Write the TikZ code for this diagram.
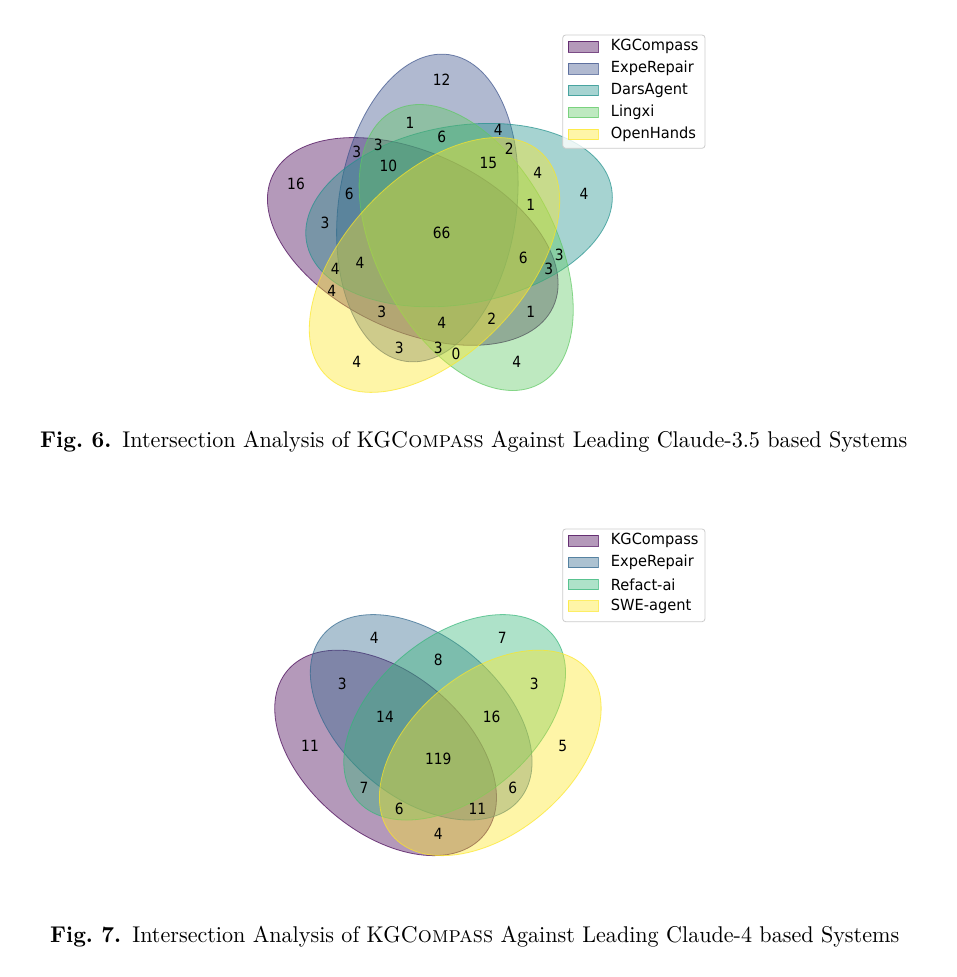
\documentclass[tikz,border=0pt]{standalone}
\usepackage{fontspec}
\newfontfamily\dv{DejaVu Sans}
\usepackage{graphicx}
\definecolor{vA}{HTML}{440154}
\definecolor{vB}{HTML}{3B528B}
\definecolor{vC}{HTML}{21918C}
\definecolor{vD}{HTML}{5EC962}
\definecolor{vE}{HTML}{FDE725}
\definecolor{wB}{HTML}{31688E}
\definecolor{wC}{HTML}{35B779}
\tikzset{
  petal/.style={fill=#1, draw=#1, fill opacity=0.4, draw opacity=0.7, line width=0.8pt},
  num/.style={font=\dv\fontsize{13.8}{16}\selectfont, inner sep=0pt, text=black, yscale=1.12, transform shape},
  legtext/.style={font=\dv\fontsize{14.6}{17}\selectfont, inner sep=0pt, anchor=west, text=black, yscale=1.05, transform shape},
  legpatch/.style={fill=#1, draw=#1, fill opacity=0.4, draw opacity=0.7, line width=0.8pt, minimum width=30pt, minimum height=10.7pt, inner sep=0pt},
  legframe/.style={draw=black!20, fill=white, fill opacity=0.8, rounded corners=3pt, line width=0.8pt},
  captext/.style={inner sep=0pt, anchor=base west}
}
\begin{document}
\begin{tikzpicture}[x=1pt,y=-1pt]
\useasboundingbox (0,0) rectangle (956,977);
\fill[white] (0,0) rectangle (956,977);

% ---------- Figure 6: five sets ----------
\begin{scope}[shift={(260.4,401.3)}, x=356pt, y=356pt]
  \draw[petal=vA, rotate around={155:(0.428,0.449)}] (0.428,0.449) ellipse [x radius=0.435, y radius=0.25];
  \draw[petal=vB, rotate around={82:(0.469,0.543)}] (0.469,0.543) ellipse [x radius=0.435, y radius=0.25];
  \draw[petal=vC, rotate around={10:(0.558,0.523)}] (0.558,0.523) ellipse [x radius=0.435, y radius=0.25];
  \draw[petal=vD, rotate around={118:(0.578,0.432)}] (0.578,0.432) ellipse [x radius=0.435, y radius=0.25];
  \draw[petal=vE, rotate around={46:(0.489,0.383)}] (0.489,0.383) ellipse [x radius=0.435, y radius=0.25];
\end{scope}

\node[num] (a1) at (441.7,80) {12};
\node[num] (a2) at (410,122.7) {1};
\node[num] (a3) at (441.7,137.3) {6};
\node[num] (a4) at (498.3,130) {4};
\node[num] (a5) at (509.3,148.3) {2};
\node[num] (a6) at (356.7,151.7) {3};
\node[num] (a7) at (378.3,145) {3};
\node[num] (a8) at (388.3,166) {10};
\node[num] (a9) at (488.3,162.7) {15};
\node[num] (a10) at (296,184) {16};
\node[num] (a11) at (537.7,172.7) {4};
\node[num] (a12) at (584,194) {4};
\node[num] (a13) at (349.3,194) {6};
\node[num] (a14) at (530.7,204.7) {1};
\node[num] (a15) at (325,222.7) {3};
\node[num] (a16) at (441.7,233.3) {66};
\node[num] (a17) at (523.3,258.3) {6};
\node[num] (a18) at (559.3,255) {3};
\node[num] (a19) at (548.7,269.3) {3};
\node[num] (a20) at (360,262.7) {4};
\node[num] (a21) at (335.3,269.3) {4};
\node[num] (a22) at (331.7,290.7) {4};
\node[num] (a23) at (381.7,311.7) {3};
\node[num] (a24) at (441.7,322.7) {4};
\node[num] (a25) at (491.7,319) {2};
\node[num] (a26) at (530.7,312) {1};
\node[num] (a27) at (399.3,348) {3};
\node[num] (a28) at (438.3,348) {3};
\node[num] (a29) at (456,354.3) {0};
\node[num] (a30) at (356.7,361.7) {4};
\node[num] (a31) at (516.7,361.7) {4};

% legend 6
\draw[legframe] (562.7,35) rectangle (705,148.3);
\node[legpatch=vA] (pa1) at (583.3,46.7) {};
\node[legpatch=vB] (pa2) at (583.3,68.6) {};
\node[legpatch=vC] (pa3) at (583.3,90.5) {};
\node[legpatch=vD] (pa4) at (583.3,112.4) {};
\node[legpatch=vE] (pa5) at (583.3,134.3) {};
\node[legtext] (ta1) at (610.7,46.7) {KGCompass};
\node[legtext] (ta2) at (610.7,68.6) {ExpeRepair};
\node[legtext] (ta3) at (610.7,90.5) {DarsAgent};
\node[legtext] (ta4) at (610.7,112.4) {Lingxi};
\node[legtext] (ta5) at (610.7,134.3) {OpenHands};

\node[captext] (cap6) at (40,447.3) {\resizebox{867pt}{16.3pt}{\textbf{Fig.~6.}\enspace Intersection Analysis of KG\textsc{Compass} Against Leading Claude-3.5 based Systems}};

% ---------- Figure 7: four sets ----------
\begin{scope}[shift={(261,895.3)}, x=356pt, y=356pt]
  \draw[petal=vA, rotate around={140:(0.350,0.400)}] (0.350,0.400) ellipse [x radius=0.36, y radius=0.225];
  \draw[petal=wB, rotate around={140:(0.450,0.500)}] (0.450,0.500) ellipse [x radius=0.36, y radius=0.225];
  \draw[petal=wC, rotate around={40:(0.544,0.500)}] (0.544,0.500) ellipse [x radius=0.36, y radius=0.225];
  \draw[petal=vE, rotate around={40:(0.644,0.400)}] (0.644,0.400) ellipse [x radius=0.36, y radius=0.225];
\end{scope}

\node[num] (b1) at (374.3,638.3) {4};
\node[num] (b2) at (502.3,638.3) {7};
\node[num] (b3) at (438.3,660) {8};
\node[num] (b4) at (342.3,684.3) {3};
\node[num] (b5) at (534.3,684.3) {3};
\node[num] (b6) at (385,716.7) {14};
\node[num] (b7) at (491.7,716.7) {16};
\node[num] (b8) at (310,746) {11};
\node[num] (b9) at (562.7,746) {5};
\node[num] (b10) at (438.3,759.3) {119};
\node[num] (b11) at (364,787.7) {7};
\node[num] (b12) at (512.7,787.7) {6};
\node[num] (b13) at (399.3,809.3) {6};
\node[num] (b14) at (477.3,809.3) {11};
\node[num] (b15) at (438.3,834.3) {4};

% legend 7
\draw[legframe] (562.7,529) rectangle (705,621.7);
\node[legpatch=vA] (pb1) at (583.3,540.7) {};
\node[legpatch=wB] (pb2) at (583.3,562.5) {};
\node[legpatch=wC] (pb3) at (583.3,584.3) {};
\node[legpatch=vE] (pb4) at (583.3,606.1) {};
\node[legtext] (tb1) at (610.7,540.7) {KGCompass};
\node[legtext] (tb2) at (610.7,562.5) {ExpeRepair};
\node[legtext] (tb3) at (610.7,584.3) {Refact-ai};
\node[legtext] (tb4) at (610.7,606.1) {SWE-agent};

\node[captext] (cap7) at (50,942.3) {\resizebox{849pt}{16.3pt}{\textbf{Fig.~7.}\enspace Intersection Analysis of KG\textsc{Compass} Against Leading Claude-4 based Systems}};
\end{tikzpicture}
\end{document}
